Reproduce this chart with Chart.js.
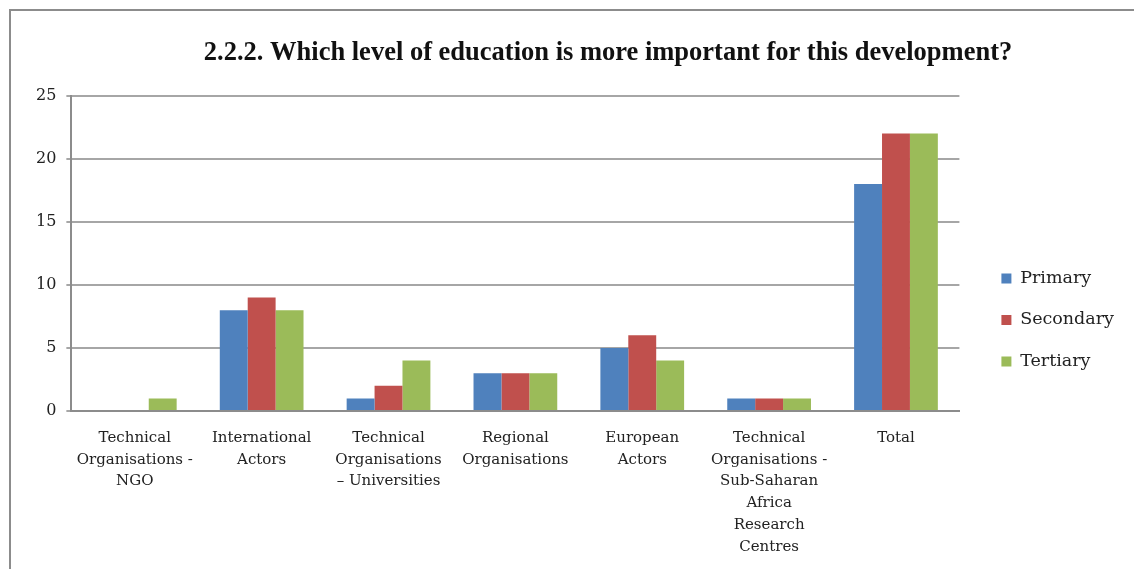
<!DOCTYPE html>
<html>
<head>
<meta charset="utf-8">
<script src="https://cdn.jsdelivr.net/npm/chart.js@4"></script>
<style>
  html, body { margin: 0; padding: 0; background: #fff; }
  #wrap { position: absolute; left: 0; top: 0; width: 1134px; height: 569px; }
  #frame { position: absolute; left: 9px; top: 9px; width: 1125px; height: 560px;
           border-left: 2px solid #8c8c8c; border-top: 2px solid #8c8c8c; }
</style>
</head>
<body>
<div id="wrap">
  <div id="frame"></div>
  <canvas id="chart" width="1134" height="569"></canvas>
</div>
<script>
const categories = [
  ['Technical', 'Organisations -', 'NGO'],
  ['International', 'Actors'],
  ['Technical', 'Organisations', '– Universities'],
  ['Regional', 'Organisations'],
  ['European', 'Actors'],
  ['Technical', 'Organisations -', 'Sub-Saharan', 'Africa', 'Research', 'Centres'],
  ['Total']
];
const primary = [0, 8, 1, 3, 5, 1, 18];
const secondary = [0, 9, 2, 3, 6, 1, 22];
const tertiary = [1, 8, 4, 3, 4, 1, 22];
const yTicks = [0, 5, 10, 15, 20, 25];

const serif = "'DejaVu Serif', 'Liberation Serif', serif";
const titleFont = "'Liberation Serif', serif";

// title sits a bit right of the canvas centre in the original
const shiftTitle = {
  id: 'shiftTitle',
  afterLayout(chart) {
    chart.titleBlock.left += 33;
    chart.titleBlock.right += 33;
  }
};

const ctx = document.getElementById('chart');

const chart = new Chart(ctx, {
  type: 'bar',
  data: {
    labels: categories,
    datasets: [
      { label: 'Primary', data: primary, backgroundColor: '#4f81bd' },
      { label: 'Secondary', data: secondary, backgroundColor: '#c0504d' },
      { label: 'Tertiary', data: tertiary, backgroundColor: '#9bbb59' }
    ]
  },
  options: {
    responsive: false,
    animation: false,
    devicePixelRatio: 1,
    layout: { padding: { left: 26, right: 10, top: 37, bottom: 0 } },
    datasets: {
      bar: { categoryPercentage: 0.66, barPercentage: 1.0 }
    },
    plugins: {
      title: {
        display: true,
        text: '2.2.2. Which level of education is more important for this development?',
        color: '#111',
        font: { family: titleFont, size: 26.5, weight: 'bold' },
        padding: { top: 0, bottom: 27 }
      },
      legend: {
        position: 'right',
        title: { display: true, text: ' ', font: { size: 14 }, padding: { top: 8, bottom: 9 } },
        labels: {
          color: '#222',
          font: { family: serif, size: 17.5 },
          boxWidth: 10,
          boxHeight: 10,
          padding: 24
        }
      },
      tooltip: { enabled: false }
    },
    scales: {
      x: {
        grid: { display: false, drawTicks: false },
        border: { color: '#8c8c8c', width: 2 },
        ticks: {
          color: '#222',
          font: { family: serif, size: 15, lineHeight: 1.45 },
          maxRotation: 0,
          autoSkip: false,
          padding: 16
        },
        afterFit: s => { s.height = 158; }
      },
      y: {
        min: 0,
        max: 25,
        afterBuildTicks: s => { s.ticks = yTicks.map(v => ({ value: v })); },
        grid: { color: '#a6a6a6', lineWidth: 2, tickLength: 5 },
        border: { color: '#8c8c8c', width: 2 },
        ticks: {
          color: '#222',
          font: { family: serif, size: 16 },
          padding: 10
        }
      },
      gap: {
        type: 'linear',
        position: 'right',
        grid: { display: false },
        border: { display: false },
        ticks: { display: false },
        afterFit: s => { s.width = 18; }
      }
    }
  },
  plugins: [shiftTitle]
});
</script>
</body>
</html>
